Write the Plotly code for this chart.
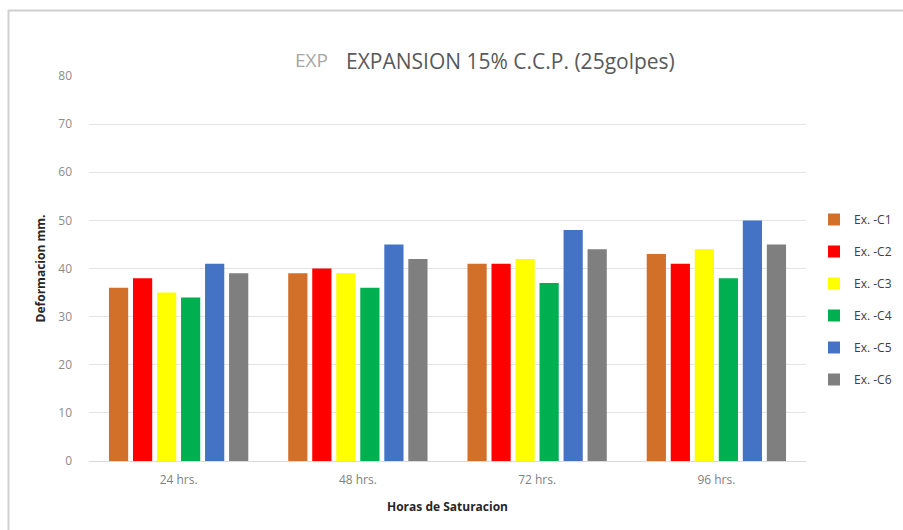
import plotly.graph_objects as go

categories = ["24 hrs.", "48 hrs.", "72 hrs.", "96 hrs."]
series_names = ["Ex. -C1", "Ex. -C2", "Ex. -C3", "Ex. -C4", "Ex. -C5", "Ex. -C6"]
c1 = [36, 39, 41, 43]
c2 = [38, 40, 41, 41]
c3 = [35, 39, 42, 44]
c4 = [34, 36, 37, 38]
c5 = [41, 45, 48, 50]
c6 = [39, 42, 44, 45]
colors = ["#D2702A", "#FF0000", "#FFFF00", "#00B050", "#4472C4", "#7F7F7F"]
y_ticks = [0, 10, 20, 30, 40, 50, 60, 70, 80]

W, H = 903, 530
ML, MR, MT, MB = 89, 97, 76, 69
pw, ph = W - ML - MR, H - MT - MB

fig = go.Figure()
for name, vals, col in zip(series_names, [c1, c2, c3, c4, c5, c6], colors):
    fig.add_trace(go.Bar(
        x=categories, y=vals, name=name, legendgroup=name,
        marker=dict(color=col, line=dict(width=0)),
    ))

def px_x(p):
    return (p - ML) / pw

def px_y(p):
    return (H - MB - p) / ph

font = "Open Sans, Liberation Sans, sans-serif"

fig.update_layout(
    width=W, height=H,
    margin=dict(l=ML, r=MR, t=MT, b=MB, autoexpand=False),
    paper_bgcolor="white", plot_bgcolor="white",
    barmode="group", bargap=0.196, bargroupgap=0.2,
    font=dict(family=font, color="#595959"),
    showlegend=True,
    legend=dict(
        x=px_x(814), y=px_y(205), xanchor="left", yanchor="top",
        font=dict(size=12, color="#404040"),
        tracegroupgap=13, itemwidth=30,
    ),
    xaxis=dict(
        showgrid=False, showline=True, linecolor="#D9D9D9", linewidth=1,
        ticks="", ticklabelstandoff=8, tickfont=dict(size=12, color="#7F7F7F"),
        title=dict(text="<b>Horas de Saturacion</b>", font=dict(size=12, color="#262626"), standoff=15),
    ),
    yaxis=dict(
        range=[0, 80], tickvals=y_ticks, showgrid=True, gridcolor="#E3E3E3", gridwidth=1,
        zeroline=False, showline=False, ticks="", ticklabelstandoff=16,
        tickfont=dict(size=12, color="#8C8C8C"),
        title=dict(text="<b>Deformacion mm.</b>", font=dict(size=12, color="#262626"), standoff=10),
    ),
    annotations=[
        dict(text="EXPANSION 15% C.C.P. (25golpes)", x=px_x(510), y=px_y(45),
             xref="paper", yref="paper", showarrow=False,
             font=dict(size=21, color="#595959", family=font)),
        dict(text="EXP", x=px_x(293), y=px_y(45), xanchor="left",
             xref="paper", yref="paper", showarrow=False,
             font=dict(size=19, color="#A6A6A6", family=font)),
    ],
    shapes=[
        dict(type="line", xref="paper", yref="paper",
             x0=px_x(8), x1=px_x(903), y0=px_y(10.5), y1=px_y(10.5),
             line=dict(color="#D0D0D0", width=2)),
        dict(type="line", xref="paper", yref="paper",
             x0=px_x(8.5), x1=px_x(8.5), y0=px_y(10), y1=px_y(530),
             line=dict(color="#D0D0D0", width=2)),
    ],
)

fig.write_html("out.html")
